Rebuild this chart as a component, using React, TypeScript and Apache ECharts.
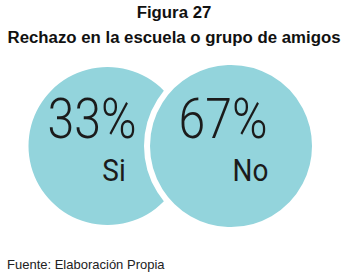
import React, { useEffect, useRef } from 'react';
import * as echarts from 'echarts';

const categories = ['Si', 'No'];
const percentages = [33, 67];
const titleLines = ['Figura 27', 'Rechazo en la escuela o grupo de amigos'];
const sourceNote = 'Fuente: Elaboración Propia';

const CIRCLE_COLOR = '#93d4dc';
const TEXT_COLOR = '#1b1b1b';

export default function App() {
  const ref = useRef<HTMLDivElement>(null);

  useEffect(() => {
    const chart = echarts.init(ref.current as HTMLDivElement, null, { renderer: 'svg' });
    chart.setOption({
      animation: false,
      title: [
        {
          text: titleLines.join('\n'),
          left: 'center',
          top: 0,
          padding: 0,
          textStyle: {
            fontFamily: 'Liberation Sans',
            fontWeight: 'bold',
            fontSize: 16.8,
            lineHeight: 25,
            color: '#111',
          },
        },
        {
          text: sourceNote,
          left: 7,
          top: 258,
          padding: 0,
          textStyle: {
            fontFamily: 'Liberation Sans',
            fontWeight: 'normal',
            fontSize: 13,
            lineHeight: 13,
            color: '#222',
          },
        },
      ],
      grid: { left: 45.75, width: 247, top: 46, height: 200 },
      xAxis: { type: 'category', data: categories, show: false },
      yAxis: { type: 'value', min: 0, max: 1, show: false },
      series: [
        {
          type: 'scatter',
          silent: true,
          clip: false,
          symbol: 'circle',
          data: categories.map((c, i) => ({
            value: [c, 0.5],
            symbolSize: i === 0 ? 158 : 168,
            itemStyle:
              i === 0
                ? { color: CIRCLE_COLOR, opacity: 1 }
                : { color: CIRCLE_COLOR, opacity: 1, borderColor: '#ffffff', borderWidth: 6 },
          })),
        },
      ],
    });

    const pctOffsets = [[-15.5, -27], [-8, -27]];
    const catOffsets = [[6.5, 24], [19.5, 24]];
    const graphics: any[] = [];
    categories.forEach((c, i) => {
      const p = chart.convertToPixel({ gridIndex: 0 }, [i, 0.5]) as number[];
      graphics.push({
        type: 'text',
        silent: true,
        z: 100,
        x: p[0] + pctOffsets[i][0],
        y: p[1] + pctOffsets[i][1],
        scaleX: 0.86,
        style: {
          text: `${percentages[i]}%`,
          fill: TEXT_COLOR,
          fontFamily: 'Roboto',
          fontWeight: 300,
          fontSize: 56,
          textAlign: 'center',
          textVerticalAlign: 'middle',
        },
      });
      graphics.push({
        type: 'text',
        silent: true,
        z: 100,
        x: p[0] + catOffsets[i][0],
        y: p[1] + catOffsets[i][1],
        scaleX: 0.9,
        style: {
          text: c,
          fill: TEXT_COLOR,
          fontFamily: 'Roboto',
          fontWeight: 400,
          fontSize: 31,
          textAlign: 'center',
          textVerticalAlign: 'middle',
        },
      });
    });
    chart.setOption({ graphic: graphics });

    return () => chart.dispose();
  }, []);

  return (
    <div
      ref={ref}
      style={{ position: 'absolute', left: 0, top: 0, width: 348, height: 276 }}
    />
  );
}
